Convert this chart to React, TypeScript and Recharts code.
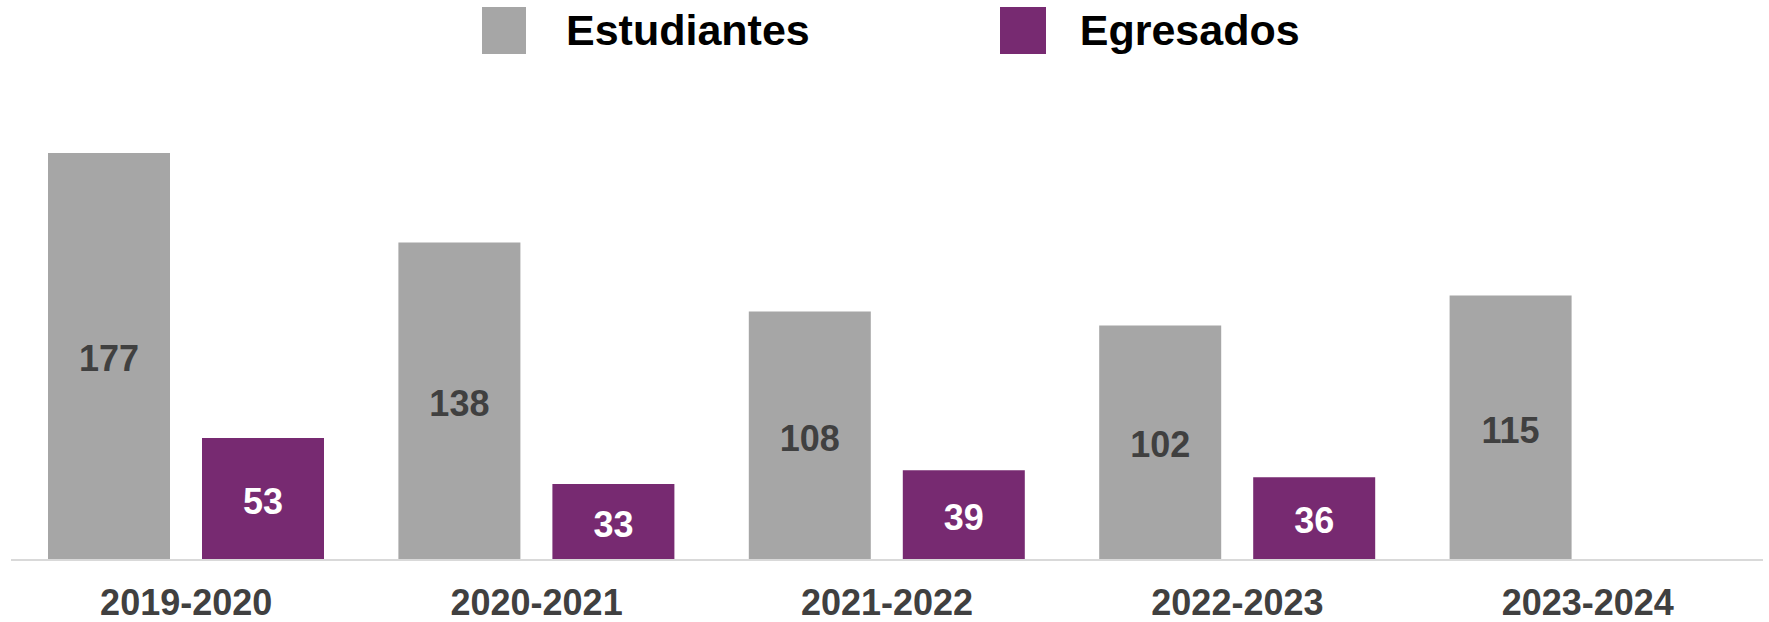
import { BarChart, Bar, XAxis, YAxis, Legend, LabelList } from "recharts";

const years = ["2019-2020", "2020-2021", "2021-2022", "2022-2023", "2023-2024"];
const estudiantes = [177, 138, 108, 102, 115];
const egresados: (number | null)[] = [53, 33, 39, 36, null];

const data = years.map((year, i) => ({
  year,
  Estudiantes: estudiantes[i],
  Egresados: egresados[i],
}));

const GRAY = "#A6A6A6";
const PURPLE = "#772A71";
const DARK = "#404040";

const LegendContent = () => (
  <div
    style={{
      display: "flex",
      alignItems: "center",
      height: 60,
      paddingLeft: 482,
      fontSize: 43,
      fontWeight: "bold",
      color: "#000",
    }}
  >
    <div style={{ width: 44, height: 47, background: GRAY }} />
    <span style={{ marginLeft: 40 }}>Estudiantes</span>
    <div style={{ width: 46, height: 47, background: PURPLE, marginLeft: 190 }} />
    <span style={{ marginLeft: 34 }}>Egresados</span>
  </div>
);

const YearTick = ({ x, y, payload }: any) => (
  <text
    x={x}
    y={y}
    dy={55}
    textAnchor="middle"
    fontSize={36}
    fontWeight="bold"
    fill={DARK}
  >
    {payload.value}
  </text>
);

export default function App() {
  return (
    <div
      style={{
        position: "absolute",
        left: 0,
        top: 0,
        width: 1769,
        height: 622,
        background: "#fff",
        fontFamily: "'Liberation Sans', Arial, sans-serif",
      }}
    >
      <BarChart
        width={1769}
        height={622}
        data={data}
        margin={{ top: 40, right: 6, bottom: 10, left: 11 }}
        barCategoryGap={37}
        barGap={32}
      >
        <Legend
          verticalAlign="top"
          content={<LegendContent />}
          wrapperStyle={{ top: 0, left: 0, width: 1769, height: 60 }}
        />
        <XAxis
          dataKey="year"
          axisLine={{ stroke: "#D9D9D9", strokeWidth: 2 }}
          tickLine={false}
          tickSize={0}
          tickMargin={0}
          height={52}
          interval={0}
          tick={<YearTick />}
        />
        <YAxis hide domain={[0, 200]} />
        <Bar dataKey="Estudiantes" fill={GRAY} isAnimationActive={false}>
          <LabelList
            dataKey="Estudiantes"
            position="center"
            fill={DARK}
            fontSize={36}
            fontWeight="bold"
            dy={2}
          />
        </Bar>
        <Bar dataKey="Egresados" fill={PURPLE} isAnimationActive={false}>
          <LabelList
            dataKey="Egresados"
            position="center"
            fill="#FFFFFF"
            fontSize={36}
            fontWeight="bold"
            dy={2}
          />
        </Bar>
      </BarChart>
    </div>
  );
}
